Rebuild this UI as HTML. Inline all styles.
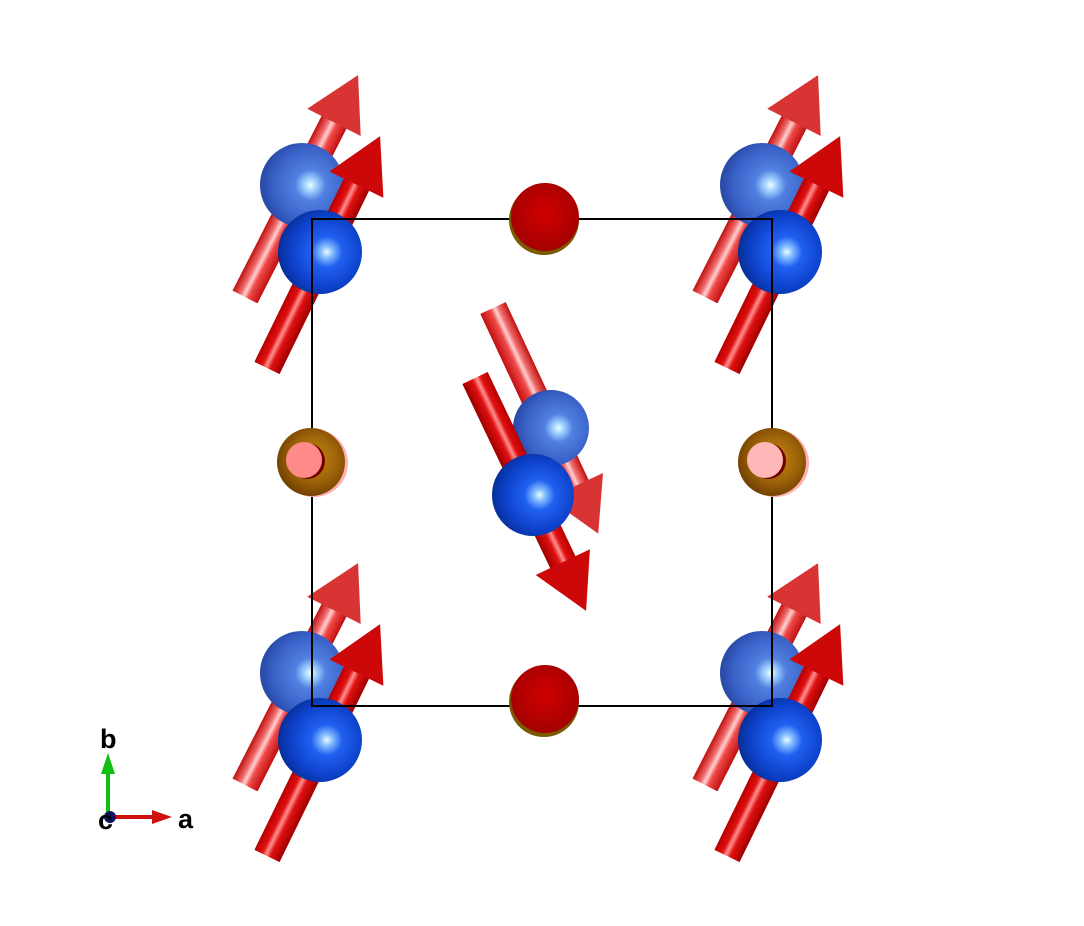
<!DOCTYPE html>
<html><head><style>html,body{margin:0;padding:0;background:#fff;width:1084px;height:926px;overflow:hidden}</style></head>
<body>
<svg width="1084" height="926" viewBox="0 0 1084 926" xmlns="http://www.w3.org/2000/svg">
<defs>
<linearGradient id="shA" x1="0" y1="0" x2="0" y2="1">
<stop offset="0" stop-color="#c01010"/><stop offset="0.3" stop-color="#f06a6a"/><stop offset="0.45" stop-color="#ffd0d0"/><stop offset="0.62" stop-color="#f04848"/><stop offset="1" stop-color="#c01010"/></linearGradient>
<linearGradient id="shB" x1="0" y1="0" x2="0" y2="1">
<stop offset="0" stop-color="#b80000"/><stop offset="0.3" stop-color="#e01010"/><stop offset="0.45" stop-color="#ff9090"/><stop offset="0.62" stop-color="#e01010"/><stop offset="1" stop-color="#a00000"/></linearGradient>
<radialGradient id="bs1" cx="0.6" cy="0.5" r="0.62"><stop offset="0" stop-color="#e8ffff"/><stop offset="0.12" stop-color="#a0d0ff"/><stop offset="0.3" stop-color="#5080e0"/><stop offset="0.7" stop-color="#3a62c8"/><stop offset="1" stop-color="#2444a0"/></radialGradient>
<radialGradient id="bs2" cx="0.58" cy="0.5" r="0.62"><stop offset="0" stop-color="#e8ffff"/><stop offset="0.12" stop-color="#80b8ff"/><stop offset="0.3" stop-color="#2060f0"/><stop offset="0.7" stop-color="#0c40c8"/><stop offset="1" stop-color="#062a88"/></radialGradient>
<radialGradient id="rs" cx="0.5" cy="0.45" r="0.6"><stop offset="0" stop-color="#d00000"/><stop offset="1" stop-color="#a00000"/></radialGradient>
<radialGradient id="br" cx="0.55" cy="0.45" r="0.6"><stop offset="0" stop-color="#c88a10"/><stop offset="0.6" stop-color="#9a6008"/><stop offset="1" stop-color="#6a3c00"/></radialGradient>
<g id="arrA"><rect x="0" y="-14" width="200" height="28" fill="url(#shA)"/><polygon points="196,-30 249,0 196,30" fill="#d83434"/></g>
<g id="arrB"><rect x="0" y="-14" width="208" height="28" fill="url(#shB)"/><polygon points="204,-30 258,0 204,30" fill="#cc0808"/></g>
<g id="corner">
<use href="#arrA" transform="translate(245,297) rotate(-63)"/>
<circle cx="302" cy="185" r="42" fill="url(#bs1)"/>
<use href="#arrB" transform="translate(267,368) rotate(-64)"/>
<circle cx="320" cy="252" r="42" fill="url(#bs2)"/>
</g>
</defs>
<use href="#corner"/>
<use href="#corner" transform="translate(460,0)"/>
<use href="#corner" transform="translate(0,488)"/>
<use href="#corner" transform="translate(460,488)"/>
<use href="#arrA" transform="translate(493,308) rotate(65)"/>
<circle cx="551" cy="428" r="38" fill="url(#bs1)"/>
<use href="#arrB" transform="translate(475,378) rotate(64.5)"/>
<circle cx="533" cy="495" r="41" fill="url(#bs2)"/>
<rect x="312" y="219" width="460" height="487" fill="none" stroke="#000" stroke-width="2"/>
<circle cx="544" cy="220" r="35" fill="#7a5a00"/><circle cx="545" cy="217" r="34" fill="url(#rs)"/>
<circle cx="544" cy="702" r="35" fill="#7a5a00"/><circle cx="545" cy="699" r="34" fill="url(#rs)"/>
<circle cx="314" cy="463" r="34" fill="#ffb0b0"/><circle cx="311" cy="462" r="34" fill="url(#br)"/>
<circle cx="307" cy="461" r="18" fill="#700000"/><circle cx="304" cy="460" r="18" fill="#ff8a8a"/>
<circle cx="775" cy="463" r="34" fill="#ffb0b0"/><circle cx="772" cy="462" r="34" fill="url(#br)"/>
<circle cx="768" cy="461" r="18" fill="#700000"/><circle cx="765" cy="460" r="18" fill="#ffb8b8"/>
<rect x="106" y="770" width="4" height="46" fill="#10c010"/>
<polygon points="101,774 108,753 115,774" fill="#10c010"/>
<rect x="110" y="815" width="45" height="4" fill="#d01010"/>
<polygon points="152,810 172,817 152,824" fill="#d01010"/>
<circle cx="110" cy="817" r="6" fill="#101060"/>
<text x="100" y="748" font-family="Liberation Sans, sans-serif" font-weight="bold" font-size="27" fill="#000">b</text>
<text x="98" y="829" font-family="Liberation Sans, sans-serif" font-weight="bold" font-size="27" fill="#000">c</text>
<text x="178" y="828" font-family="Liberation Sans, sans-serif" font-weight="bold" font-size="27" fill="#000">a</text>
</svg>
</body></html>
